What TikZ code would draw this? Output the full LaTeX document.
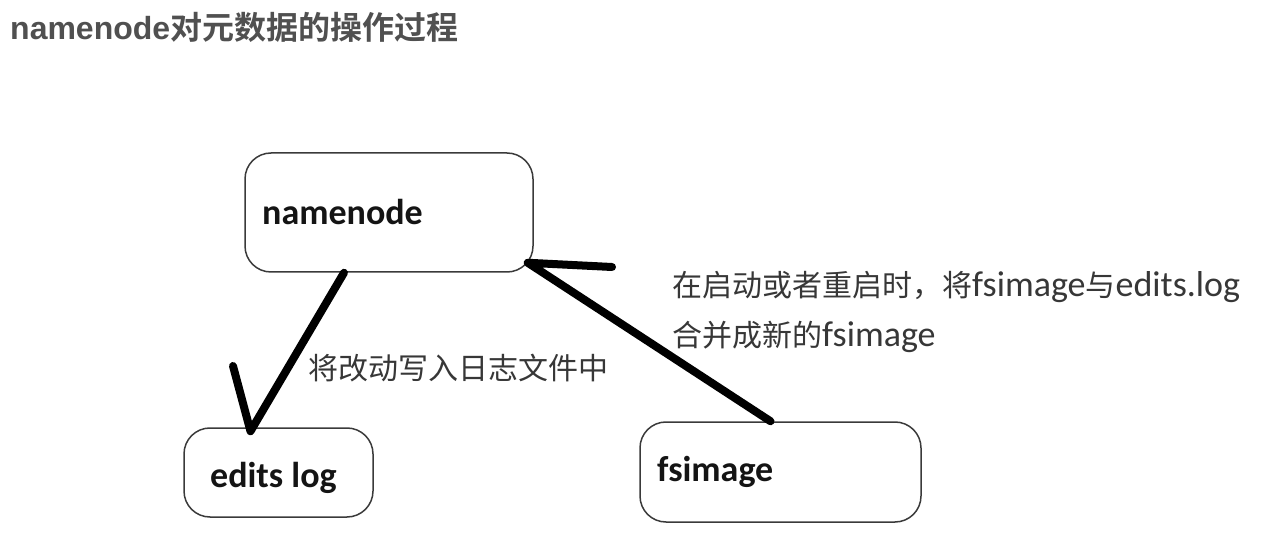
\documentclass[tikz,border=0pt]{standalone}
\usepackage{fontspec}
\setmainfont{Carlito}
\newfontfamily\cjk{Noto Sans CJK SC}
\newfontfamily\cjkb{Noto Sans CJK SC Bold}
\newfontfamily\titlelat{Liberation Sans}
\definecolor{titlegray}{HTML}{505050}
\definecolor{ink}{HTML}{141414}
\definecolor{boxline}{HTML}{3A3A3A}
\newcommand{\lat}[1]{{\fontsize{36}{40}\selectfont #1}}
\begin{document}
\begin{tikzpicture}[x=1pt,y=-1pt,
  box/.style={draw=boxline, line width=1.5pt, rounded corners=26pt, inner sep=0pt},
  boxlab/.style={anchor=west, inner sep=0pt, text=ink, font=\fontsize{36}{40}\selectfont\bfseries},
  note/.style={anchor=west, inner sep=0pt, text=ink!85, font=\fontsize{30}{36}\selectfont},
  stroke/.style={line width=8pt, line cap=round, line join=round, draw=black}]
\useasboundingbox (0,0) rectangle (1274,534);
% title
\node[anchor=west, inner sep=0pt, text=titlegray] (title) at (10,27)
  {\fontsize{32}{36}\selectfont{\titlelat\bfseries namenode}{\cjkb 对元数据的操作过程}};
% boxes
\node[box, minimum width=288pt, minimum height=119pt] (nn) at (389,212.5) {};
\node[box, minimum width=189pt, minimum height=89pt] (el) at (278.5,472.5) {};
\node[box, minimum width=281pt, minimum height=100pt] (fs) at (780.5,472) {};
% box labels
\node[boxlab] (nnl) at (262,212) {namenode};
\node[boxlab] (ell) at (210,478) {edits log};
\node[boxlab] (fsl) at (657,472) {fsimage};
% notes
\node[note] (n1) at (308,368) {\cjk 将改动写入日志文件中};
\node[note] (n2) at (672,287) {{\cjk 在启动或者重启时，将}\lat{fsimage}{\cjk 与}\lat{edits.log}};
\node[note] (n3) at (672,337) {{\cjk 合并成新的}\lat{fsimage}};
% connector namenode -> edits log
\path (nn.south) ++(-45,0) coordinate (a1s);
\path (el.north) ++(-28,4) coordinate (a1t);
\coordinate (a1h) at (233,366);
\draw[stroke] (a1s) -- (a1t) -- (a1h);
% connector fsimage -> namenode
\path (fs.north) ++(-10,0) coordinate (a2s);
\path (nn.south east) ++(-6,-10) coordinate (a2t);
\coordinate (a2h) at (612,267);
\draw[stroke] (a2s) -- (a2t) -- (a2h);
\end{tikzpicture}
\end{document}
